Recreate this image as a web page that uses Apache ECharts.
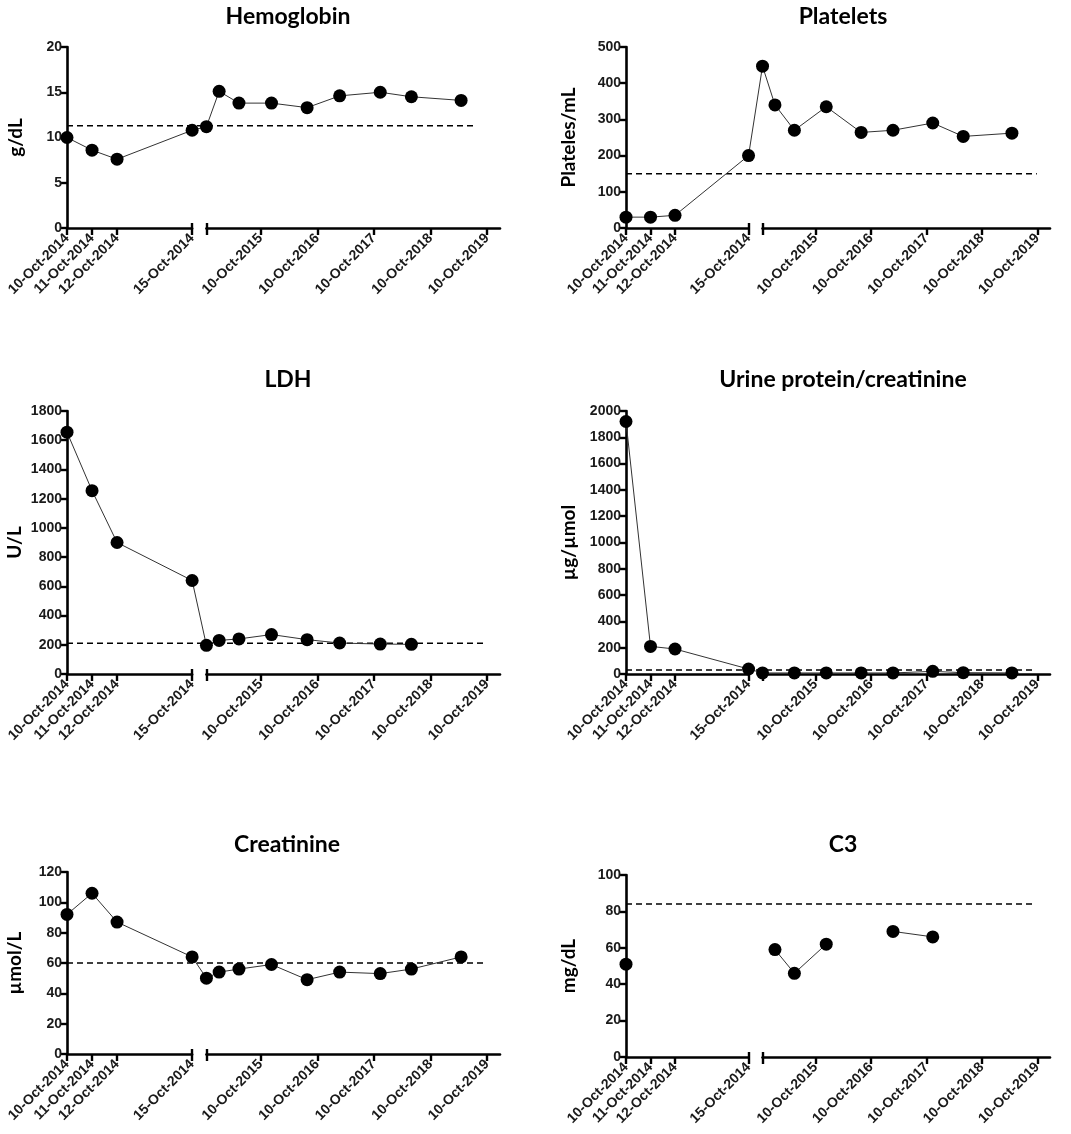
<!DOCTYPE html>
<html>
<head>
<meta charset="utf-8">
<script src="https://cdn.jsdelivr.net/npm/echarts@6/dist/echarts.min.js"></script>
<style>
html, body { margin: 0; padding: 0; background: #fff; }
#main { width: 1071px; height: 1134px; }
</style>
</head>
<body>
<div id="main"></div>
<script>
// visit dates shared by all panels
var visitDates = ['2014-10-10', '2014-10-11', '2014-10-12', '2014-10-15',
    '2014-10-25', '2015-01-15', '2015-05-23', '2015-12-19', '2016-08-05',
    '2017-03-03', '2017-11-20', '2018-06-09', '2019-04-26'];

var leftTickDates = ['2014-10-10', '2014-10-11', '2014-10-12', '2014-10-15'];
var rightTickDates = ['2015-10-10', '2016-10-10', '2017-10-10', '2018-10-10', '2019-10-10'];

var hemoglobin = [10.0, 8.6, 7.6, 10.8, 11.2, 15.1, 13.8, 13.8, 13.3, 14.6, 15.0, 14.5, 14.1];
var platelets = [30, 30, 35, 200, 447, 340, 270, 335, 264, 270, 290, 253, 262];
var ldh = [1655, 1255, 900, 640, 196, 230, 240, 270, 235, 212, 205, 203, null];
var urineProtein = [1920, 210, 190, 38, 8, null, 8, 8, 8, 8, 20, 10, 8];
var creatinine = [92, 106, 87, 64, 50, 54, 56, 59, 49, 54, 53, 56, 64];
var c3 = [51, null, null, null, null, 59, 46, 62, null, 69, 66, null, null];

// reference (normal limit) lines
var refValues = [11.3, 150, 210, 30, 60, 84];
var refEndDates = ['2019-07-12', '2019-10-07', '2019-09-15', '2019-09-12', '2019-09-15', '2019-09-12'];

var panelTitles = ['Hemoglobin', 'Platelets', 'LDH', 'Urine protein/creatinine', 'Creatinine', 'C3'];
var panelUnits = ['g/dL', 'Plateles/mL', 'U/L', 'µg/µmol', 'µmol/L', 'mg/dL'];
var panelSeries = [hemoglobin, platelets, ldh, urineProtein, creatinine, c3];
var yMaxes = [20, 500, 1800, 2000, 120, 100];
var ySteps = [5, 100, 200, 200, 20, 20];

// layout of each panel (pixels)
var layout = [
    {left: 67, top: 47, width: 433, height: 181, titleX: 283, titleTop: 0, nameGap: 42},
    {left: 626, top: 47, width: 424, height: 181, titleX: 838, titleTop: 0, nameGap: 48},
    {left: 67, top: 411, width: 433, height: 263, titleX: 283, titleTop: 363, nameGap: 43},
    {left: 626, top: 411, width: 424, height: 263, titleX: 838, titleTop: 363, nameGap: 48},
    {left: 67, top: 872, width: 433, height: 182, titleX: 282, titleTop: 828, nameGap: 43},
    {left: 626, top: 875, width: 424, height: 182, titleX: 838, titleTop: 828, nameGap: 48}
];

// broken x axis: days 0..5 on the left piece, then a gap, then years
var LEFT_END = 0.289, RIGHT_START = 0.322;
var LEFT_MAX = 5, RIGHT_MIN = 15, RIGHT_MAX = 1910;
var MONTHS = ['Jan', 'Feb', 'Mar', 'Apr', 'May', 'Jun', 'Jul', 'Aug', 'Sep', 'Oct', 'Nov', 'Dec'];
var BASE = Date.UTC(2014, 9, 10);

function toDays(s) {
    var p = s.split('-');
    return Math.round((Date.UTC(+p[0], +p[1] - 1, +p[2]) - BASE) / 864e5);
}
function dayLabel(d) {
    var dt = new Date(BASE + d * 864e5);
    return dt.getUTCDate() + '-' + MONTHS[dt.getUTCMonth()] + '-' + dt.getUTCFullYear();
}
// position on the shared (hidden) 0..1000 axis
function toU(s) {
    var d = toDays(s);
    if (d <= LEFT_MAX) return d / LEFT_MAX * LEFT_END * 1000;
    return RIGHT_START * 1000 + (d - RIGHT_MIN) / (RIGHT_MAX - RIGHT_MIN) * (1 - RIGHT_START) * 1000;
}

var leftTicks = leftTickDates.map(toDays);
var rightTicks = rightTickDates.map(toDays);

var FONT = 'Arial, "Liberation Sans", sans-serif';
var axisLineStyle = {color: '#000', width: 2.6};
var tickStyle = {color: '#000', width: 2.4};

function xLabel(values) {
    return {customValues: values, rotate: 45, margin: 8, formatter: dayLabel,
        color: '#1a1a1a', fontFamily: FONT, fontWeight: 'bold', fontSize: 14};
}

var titles = [], grids = [], xAxes = [], yAxes = [], series = [];

panelTitles.forEach(function (name, p) {
    var L = layout[p];
    titles.push({
        text: name, left: L.titleX, top: L.titleTop, textAlign: 'center',
        textStyle: {fontFamily: 'Lato', fontWeight: 'bold', fontSize: 23, color: '#000'}
    });
    var g0 = grids.length;
    grids.push({left: L.left, top: L.top, width: L.width, height: L.height, outerBoundsMode: 'none'});
    grids.push({left: L.left, top: L.top, width: L.width * LEFT_END, height: L.height, outerBoundsMode: 'none'});
    grids.push({left: L.left + L.width * RIGHT_START, top: L.top, width: L.width * (1 - RIGHT_START),
        height: L.height, outerBoundsMode: 'none'});

    // data axis (hidden x) + visible y
    var xd = xAxes.length;
    xAxes.push({gridIndex: g0, type: 'value', min: 0, max: 1000, show: false});
    var yd = yAxes.length;
    yAxes.push({
        gridIndex: g0, type: 'value', min: 0, max: yMaxes[p], interval: ySteps[p],
        name: panelUnits[p], nameLocation: 'middle', nameGap: L.nameGap,
        nameTextStyle: {fontFamily: 'Lato', fontWeight: 'bold', fontSize: 19, color: '#000'},
        axisLine: {show: true, lineStyle: axisLineStyle},
        axisTick: {show: true, length: 6, lineStyle: tickStyle},
        axisLabel: {margin: 5, color: '#1a1a1a', fontFamily: FONT, fontWeight: 'bold', fontSize: 14,
            formatter: function (v) { return String(v); }},
        splitLine: {show: false}
    });

    // left piece of the x axis
    xAxes.push({
        gridIndex: g0 + 1, type: 'value', min: 0, max: LEFT_MAX, position: 'bottom',
        axisLine: {show: true, lineStyle: axisLineStyle},
        axisTick: {show: true, length: 7, customValues: leftTicks, lineStyle: tickStyle},
        axisLabel: xLabel(leftTicks),
        splitLine: {show: false}
    });
    xAxes.push({
        gridIndex: g0 + 1, type: 'value', min: 0, max: LEFT_MAX, position: 'bottom',
        axisLine: {show: false},
        axisTick: {show: true, inside: true, length: 5, customValues: [LEFT_MAX], lineStyle: tickStyle},
        axisLabel: {show: false}, splitLine: {show: false}
    });
    // right piece of the x axis
    xAxes.push({
        gridIndex: g0 + 2, type: 'value', min: RIGHT_MIN, max: RIGHT_MAX, position: 'bottom',
        axisLine: {show: true, lineStyle: axisLineStyle},
        axisTick: {show: true, length: 7, customValues: [RIGHT_MIN].concat(rightTicks), lineStyle: tickStyle},
        axisLabel: xLabel(rightTicks),
        splitLine: {show: false}
    });
    xAxes.push({
        gridIndex: g0 + 2, type: 'value', min: RIGHT_MIN, max: RIGHT_MAX, position: 'bottom',
        axisLine: {show: false},
        axisTick: {show: true, inside: true, length: 5, customValues: [RIGHT_MIN], lineStyle: tickStyle},
        axisLabel: {show: false}, splitLine: {show: false}
    });
    yAxes.push({gridIndex: g0 + 1, type: 'value', min: 0, max: 1, show: false});
    yAxes.push({gridIndex: g0 + 2, type: 'value', min: 0, max: 1, show: false});

    series.push({
        type: 'line', xAxisIndex: xd, yAxisIndex: yd, silent: true, symbol: 'none', z: 1,
        data: [[toU(visitDates[0]), refValues[p]], [toU(refEndDates[p]), refValues[p]]],
        lineStyle: {color: '#000', width: 1.5, type: [6, 4]}
    });
    var vals = panelSeries[p];
    var pts = visitDates.map(function (d, i) { return [toU(d), vals[i]]; });
    // C3 has real gaps between visits; elsewhere a missing visit is skipped
    if (p !== 5) pts = pts.filter(function (q) { return q[1] !== null; });
    series.push({
        type: 'line', xAxisIndex: xd, yAxisIndex: yd, silent: true, z: 3,
        data: pts, connectNulls: false,
        symbol: 'circle', symbolSize: 13, showAllSymbol: true,
        itemStyle: {color: '#000'},
        lineStyle: {color: '#333', width: 1}
    });
});

var chart = echarts.init(document.getElementById('main'), null, {renderer: 'canvas'});
chart.setOption({
    animation: false,
    backgroundColor: '#fff',
    title: titles,
    grid: grids,
    xAxis: xAxes,
    yAxis: yAxes,
    series: series
});
</script>
</body>
</html>
